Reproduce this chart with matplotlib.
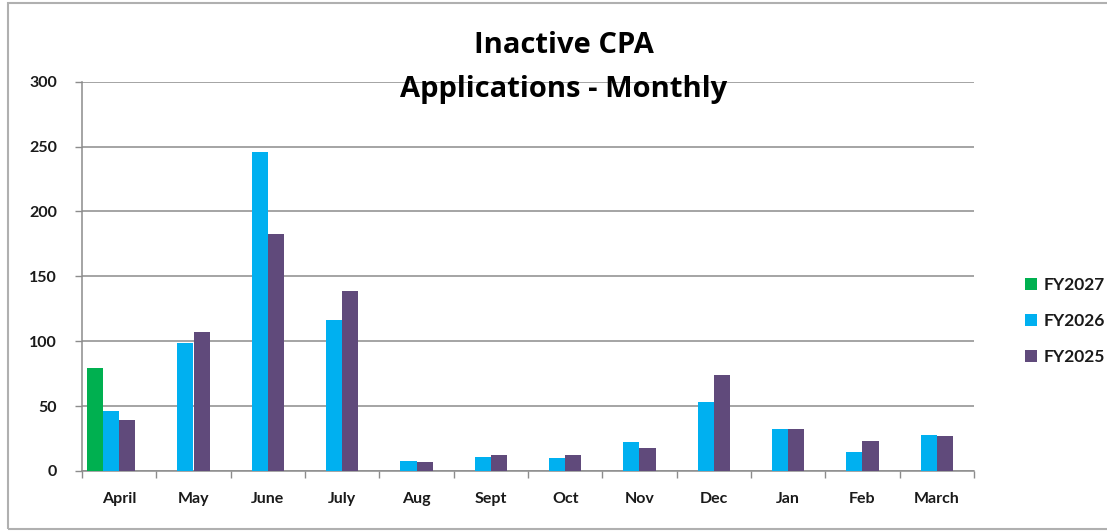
import numpy as np
import matplotlib
matplotlib.use("Agg")
import matplotlib.pyplot as plt
from matplotlib.patches import Patch, Rectangle

months = ["April", "May", "June", "July", "Aug", "Sept", "Oct", "Nov", "Dec", "Jan", "Feb", "March"]
fy2027 = [79, np.nan, np.nan, np.nan, np.nan, np.nan, np.nan, np.nan, np.nan, np.nan, np.nan, np.nan]
fy2026 = [46, 99, 246, 116, 8, 11, 10, 22, 53, 32, 15, 28]
fy2025 = [39, 107, 183, 139, 7, 12, 12, 18, 74, 32, 23, 27]
series_names = ["FY2027", "FY2026", "FY2025"]
colors = ["#00B050", "#00B0F0", "#604A7B"]
yticks = [0, 50, 100, 150, 200, 250, 300]

plt.rcParams['font.family'] = ['Lato', 'DejaVu Sans']

W, H = 1107, 531
fig = plt.figure(figsize=(W / 100, H / 100), dpi=100)
ax = fig.add_axes([82 / W, 1 - 471 / H, (974 - 82) / W, (471 - 81.7) / H])

x = np.arange(len(months))
w = 0.2155
offsets = [-1.5 * w, -0.5 * w, 0.5 * w]
for vals, off, c, name in zip([fy2027, fy2026, fy2025], offsets, colors, series_names):
    ax.bar(x + off, vals, width=w, color=c, linewidth=0, label=name, zorder=3)

ax.set_xlim(-0.5, len(months) - 0.5)
ax.set_ylim(0, 300)
ax.set_yticks(yticks)
ax.set_yticklabels([str(v) for v in yticks])
ax.yaxis.grid(True, color="#8c8c8c", linewidth=1.1, zorder=0)
ax.set_axisbelow(True)

ax.set_xticks(x)
ax.set_xticklabels(months)
ax.set_xticks(np.arange(-0.5, len(months)), minor=True)
ax.tick_params(axis='x', which='major', length=0, pad=15, labelsize=11.5, labelcolor="#1a1a1a")
ax.tick_params(axis='x', which='minor', length=5, width=1, color="#8c8c8c", direction='out')
ax.tick_params(axis='y', length=5, width=1, color="#8c8c8c", pad=13, labelsize=11.5, labelcolor="#1a1a1a")
for lab in ax.get_xticklabels() + ax.get_yticklabels():
    lab.set_fontweight('bold')

for s in ["top", "right"]:
    ax.spines[s].set_visible(False)
for s in ["left", "bottom"]:
    ax.spines[s].set_color("#8c8c8c")
    ax.spines[s].set_linewidth(1.1)

title_font = ['Open Sans', 'DejaVu Sans']
fig.text(564 / W, 1 - 53 / H, "Inactive CPA", ha='center', va='baseline', fontsize=21,
         fontweight='bold', family=title_font, color="#000000")
fig.text(564 / W, 1 - 97 / H, "Applications - Monthly", ha='center', va='baseline', fontsize=21,
         fontweight='bold', family=title_font, color="#000000")

handles = [Patch(facecolor=c, edgecolor='none', label=n) for c, n in zip(colors, series_names)]
leg = fig.legend(handles=handles, loc='center left', bbox_to_anchor=(1025 / W, 1 - 321 / H),
                 frameon=False, fontsize=12.5, handlelength=0.7, handleheight=0.7,
                 handletextpad=0.35, labelspacing=1.15, borderpad=0, borderaxespad=0)
for t in leg.get_texts():
    t.set_fontweight('bold')
    t.set_color("#1a1a1a")

fig.patches.append(Rectangle((8 / W, 1 - 529 / H), (1200 - 8) / W, (529 - 3) / H,
                             transform=fig.transFigure, fill=False, edgecolor="#b0b0b0", linewidth=1.5))

fig.savefig("out.png", dpi=100)
